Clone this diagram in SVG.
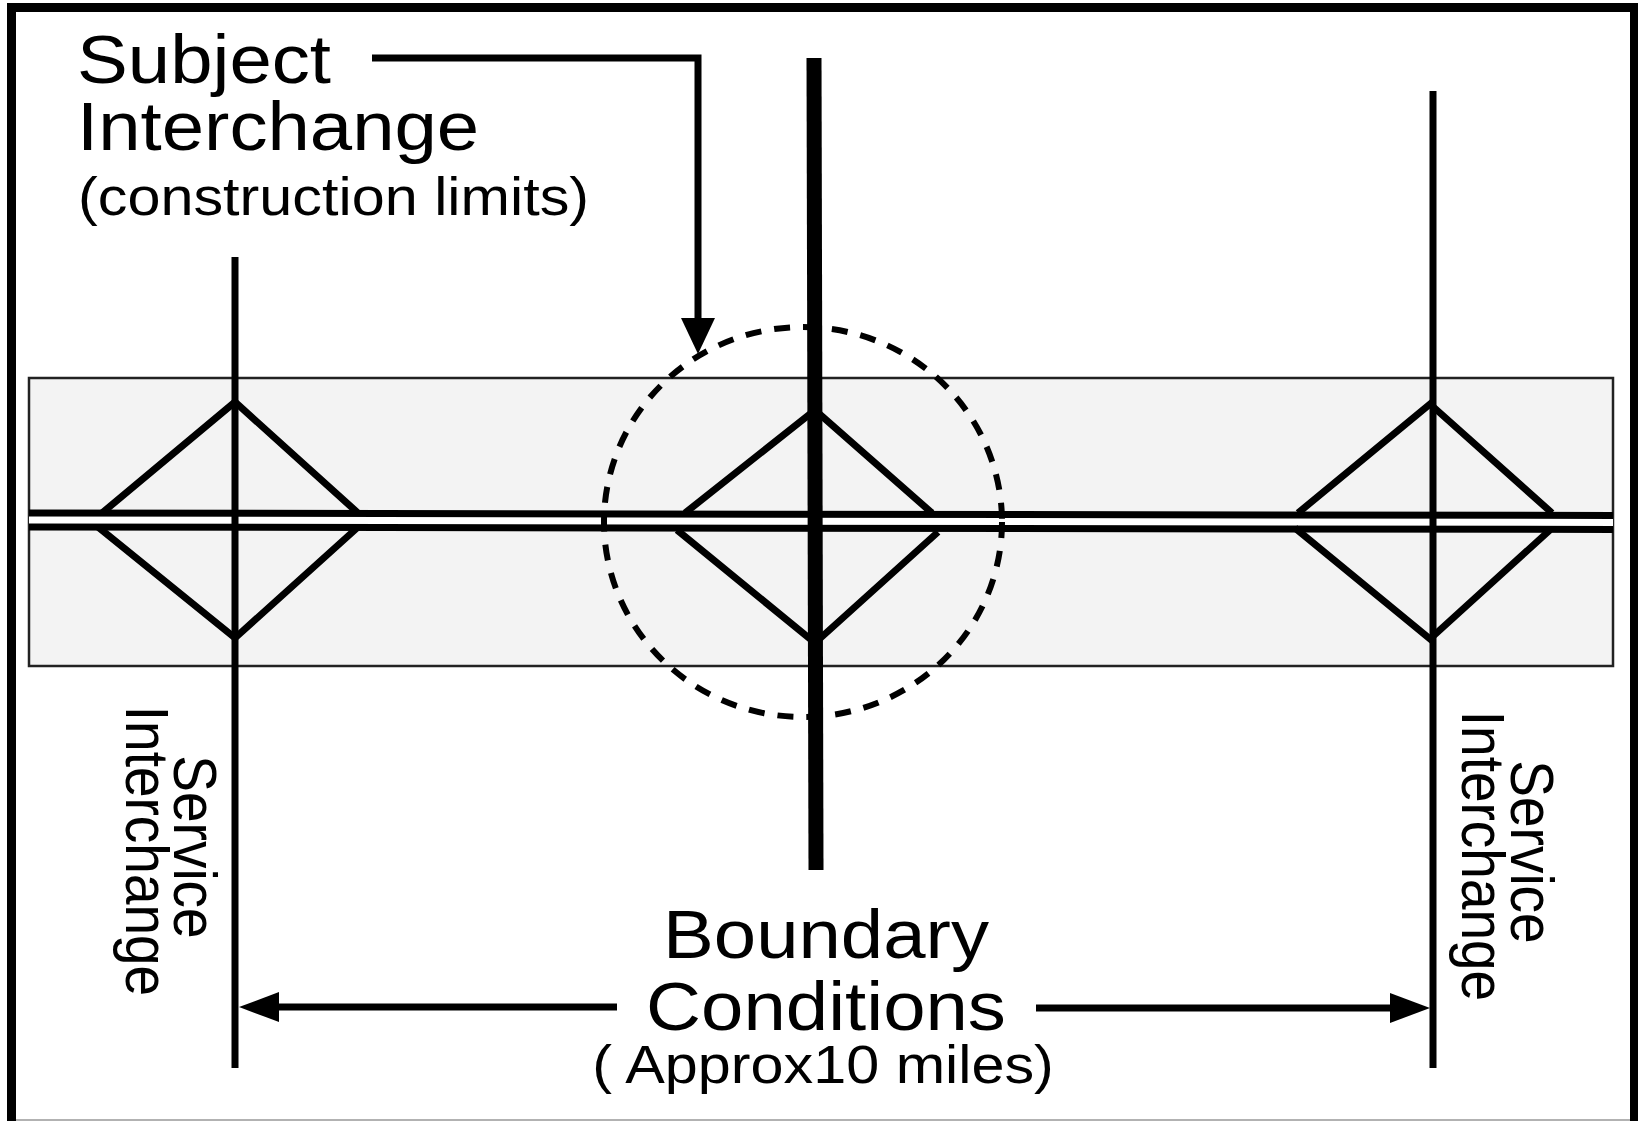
<svg xmlns="http://www.w3.org/2000/svg" width="1638" height="1121" viewBox="0 0 1638 1121">
<style>
  .ln { stroke:#000; stroke-width:7; fill:none; stroke-linejoin:miter; stroke-linecap:butt; }
  .txt { font-family:"Liberation Sans", Arial, sans-serif; fill:#000; }
  .big { font-size:68px; }
  .small { font-size:53px; }
  .rot { font-size:55px; }
</style>
<defs>
  <marker id="arrowH" markerUnits="userSpaceOnUse" markerWidth="40" markerHeight="30" refX="20" refY="15" orient="auto" overflow="visible">
    <path d="M0,0 L40,15 L0,30 Z" fill="#000"/>
  </marker>
  <marker id="arrowV" markerUnits="userSpaceOnUse" markerWidth="36" markerHeight="34" refX="16" refY="17" orient="auto" overflow="visible">
    <path d="M0,0 L36,17 L0,34 Z" fill="#000"/>
  </marker>
</defs>
<rect x="0" y="0" width="1638" height="1121" fill="#fff"/>
<g id="frame">
  <path d="M11.5,1121 V7.5 H1634.5 V1121" fill="none" stroke="#000" stroke-width="9"/>
  <line x1="16" y1="1120" x2="1630" y2="1120" stroke="#999" stroke-width="1.5"/>
</g>
<g id="corridor">
  <rect x="29" y="378" width="1584" height="288" fill="#f3f3f3" stroke="#222" stroke-width="2.5"/>
  <polygon points="29,513 1613,515.5 1613,529 29,527" fill="#fff"/>
  <line class="ln" x1="29" y1="513" x2="1613" y2="515.5"/>
  <line class="ln" x1="29" y1="527" x2="1613" y2="529.5"/>
</g>
<g id="service-interchange-left">
  <line class="ln" x1="235" y1="257" x2="235" y2="1068"/>
  <polyline class="ln" points="102,513 235,402 358,513"/>
  <polyline class="ln" points="98,527 235,638 357,528"/>
</g>
<g id="subject-interchange">
  <polyline class="ln" points="685,513 815,410 932,513"/>
  <polyline class="ln" points="677,530 815,643 938,532"/>
  <ellipse cx="803" cy="522" rx="199" ry="195" fill="none" stroke="#000" stroke-width="6" stroke-dasharray="16 13"/>
  <line x1="814" y1="58" x2="816" y2="870" stroke="#000" stroke-width="15"/>
</g>
<g id="service-interchange-right">
  <line class="ln" x1="1433" y1="91" x2="1433" y2="1068"/>
  <polyline class="ln" points="1298,513 1430,404 1552,513"/>
  <polyline class="ln" points="1295,528 1430,639 1550,530"/>
</g>
<g id="connectors">
  <path class="ln" d="M372,58 H698 V334" marker-end="url(#arrowV)"/>
  <line class="ln" x1="617" y1="1007" x2="259" y2="1007" marker-end="url(#arrowH)"/>
  <line class="ln" x1="1036" y1="1008" x2="1410" y2="1008" marker-end="url(#arrowH)"/>
</g>
<g id="label-subject" class="txt">
  <text class="big" transform="translate(77,83) scale(1.12,1)">Subject</text>
  <text class="big" transform="translate(77,150) scale(1.12,1)">Interchange</text>
  <text class="small" transform="translate(78,215) scale(1.12,1)">(construction limits)</text>
</g>
<g id="label-boundary" class="txt" text-anchor="middle">
  <text class="big" transform="translate(826,958) scale(1.12,1)">Boundary</text>
  <text class="big" transform="translate(826,1030) scale(1.12,1)">Conditions</text>
  <text class="small" transform="translate(823,1083) scale(1.12,1)">( Approx10 miles)</text>
</g>
<g id="label-service-left" class="txt rot" text-anchor="middle">
  <text transform="translate(174,847) scale(1.1,1) rotate(90)">Service</text>
  <text transform="translate(126,851) scale(1.1,1) rotate(90)">Interchange</text>
</g>
<g id="label-service-right" class="txt rot" text-anchor="middle">
  <text transform="translate(1511,852) scale(1.1,1) rotate(90)">Service</text>
  <text transform="translate(1462,856) scale(1.1,1) rotate(90)">Interchange</text>
</g>
</svg>
